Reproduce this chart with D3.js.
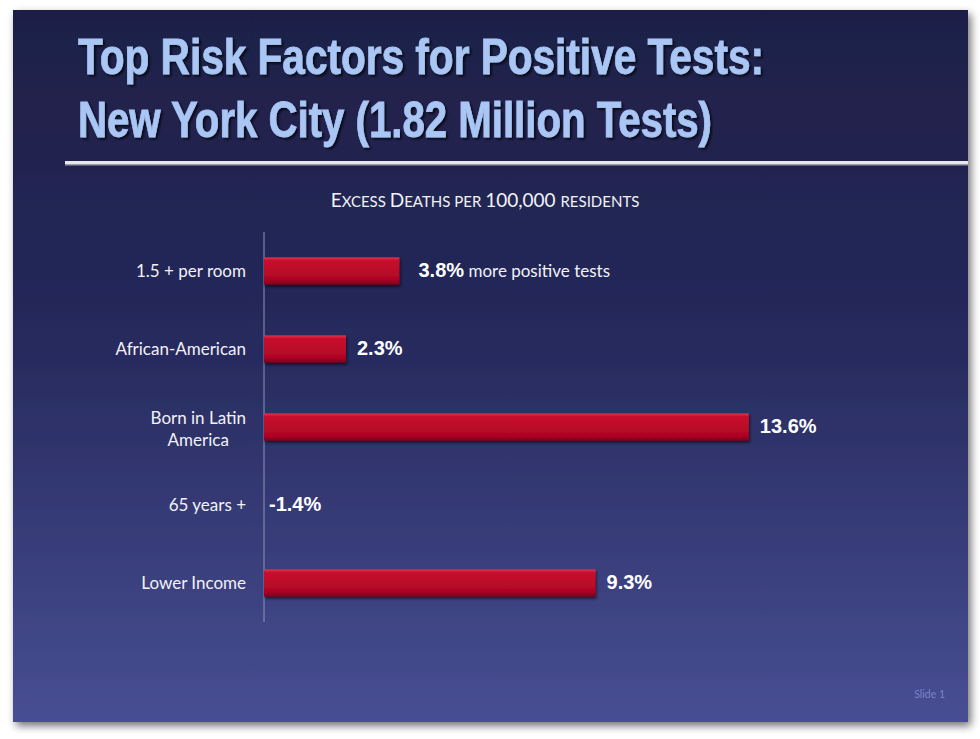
<!DOCTYPE html>
<html>
<head>
<meta charset="utf-8">
<script src="https://cdn.jsdelivr.net/npm/d3@7"></script>
<style>
  html, body { margin: 0; padding: 0; background: #fff; }
  svg { display: block; }
</style>
</head>
<body>
<svg id="chart" width="980" height="739"></svg>
<script>
(function () {
  "use strict";

  // Chart data
  var CATEGORIES = ["1.5 + per room", "African-American", "Born in Latin|America", "65 years +", "Lower Income"];
  var VALUES = [3.8, 2.3, 13.6, -1.4, 9.3];
  var VALUE_LABELS = ["3.8%", "2.3%", "13.6%", "-1.4%", "9.3%"];
  var TITLE_LINES = ["Top Risk Factors for Positive Tests:", "New York City (1.82 Million Tests)"];

  var svg = d3.select("#chart");
  var defs = svg.append("defs");
  var BODY_FONT = "Lato, 'Open Sans', sans-serif";

  // slide background
  var bg = defs.append("linearGradient").attr("id", "bg").attr("x1", 0).attr("y1", 0).attr("x2", 0).attr("y2", 1);
  bg.append("stop").attr("offset", "0%").attr("stop-color", "#1e1f47");
  bg.append("stop").attr("offset", "45%").attr("stop-color", "#25295b");
  bg.append("stop").attr("offset", "100%").attr("stop-color", "#484e93");

  var barG = defs.append("linearGradient").attr("id", "bar").attr("x1", 0).attr("y1", 0).attr("x2", 0).attr("y2", 1);
  barG.append("stop").attr("offset", "0%").attr("stop-color", "#e2334f");
  barG.append("stop").attr("offset", "12%").attr("stop-color", "#c8102e");
  barG.append("stop").attr("offset", "80%").attr("stop-color", "#b00525");
  barG.append("stop").attr("offset", "100%").attr("stop-color", "#7d0418");

  var sh = defs.append("filter").attr("id", "shadow").attr("x", "-5%").attr("y", "-5%").attr("width", "110%").attr("height", "110%");
  sh.append("feGaussianBlur").attr("in", "SourceAlpha").attr("stdDeviation", 4);
  sh.append("feOffset").attr("dx", 3).attr("dy", 4).attr("result", "b");
  sh.append("feComponentTransfer").append("feFuncA").attr("type", "linear").attr("slope", 0.55);
  var m = sh.append("feMerge"); m.append("feMergeNode"); m.append("feMergeNode").attr("in", "SourceGraphic");

  var bsh = defs.append("filter").attr("id", "bshadow").attr("x", "-5%").attr("y", "-30%").attr("width", "110%").attr("height", "170%");
  bsh.append("feGaussianBlur").attr("in", "SourceAlpha").attr("stdDeviation", 1.5);
  bsh.append("feOffset").attr("dx", 1).attr("dy", 2);
  bsh.append("feComponentTransfer").append("feFuncA").attr("type", "linear").attr("slope", 0.6);
  var m2 = bsh.append("feMerge"); m2.append("feMergeNode"); m2.append("feMergeNode").attr("in", "SourceGraphic");

  var tsh = defs.append("filter").attr("id", "tshadow").attr("x", "-5%").attr("y", "-20%").attr("width", "110%").attr("height", "140%");
  tsh.append("feGaussianBlur").attr("in", "SourceAlpha").attr("stdDeviation", 1.2);
  tsh.append("feOffset").attr("dx", 1.5).attr("dy", 1.5);
  tsh.append("feComponentTransfer").append("feFuncA").attr("type", "linear").attr("slope", 0.7);
  var m3 = tsh.append("feMerge"); m3.append("feMergeNode"); m3.append("feMergeNode").attr("in", "SourceGraphic");

  svg.append("rect").attr("x", 13).attr("y", 10).attr("width", 955).attr("height", 712)
    .attr("fill", "url(#bg)").attr("filter", "url(#shadow)");

  // title (condensed by squeezing the glyphs to the original widths)
  var TITLE_W = [686, 634];
  svg.append("g").attr("filter", "url(#tshadow)")
    .selectAll("text").data(TITLE_LINES).join("text")
    .attr("x", 78).attr("y", function (d, i) { return 74 + i * 63; })
    .attr("font-family", "'Liberation Sans', Arial, sans-serif")
    .attr("font-weight", "bold").attr("font-size", 50)
    .attr("textLength", function (d, i) { return TITLE_W[i]; })
    .attr("lengthAdjust", "spacingAndGlyphs")
    .attr("fill", "#a9c6f4").attr("stroke", "#a9c6f4").attr("stroke-width", 0.8)
    .text(function (d) { return d; });

  // rule under title
  svg.append("rect").attr("x", 65).attr("y", 161).attr("width", 903).attr("height", 4).attr("fill", "#e6e8ee");
  svg.append("rect").attr("x", 65).attr("y", 164).attr("width", 903).attr("height", 1.5).attr("fill", "#9a9caa");

  // subtitle in small caps
  var sub = svg.append("text").attr("x", 485).attr("y", 207).attr("text-anchor", "middle")
    .attr("font-family", BODY_FONT).attr("fill", "#f2f2f6");
  [["E", 19], ["XCESS ", 15], ["D", 19], ["EATHS PER ", 15], ["100,000 ", 19], [" RESIDENTS", 15]].forEach(function (p) {
    sub.append("tspan").attr("font-size", p[1]).text(p[0]);
  });

  // scales
  var x = d3.scaleLinear().domain([0, 14]).range([264, 264 + 14 * 35.65]).clamp(true);
  var y = d3.scaleBand().domain(CATEGORIES).range([232, 622]).paddingInner(0.65).paddingOuter(0.325);

  // axis line
  svg.append("line").attr("x1", x(0)).attr("x2", x(0)).attr("y1", 232).attr("y2", 622)
    .attr("stroke", "#8d93bb").attr("stroke-width", 1);

  // bars
  svg.append("g").selectAll("rect").data(VALUES).join("rect")
    .attr("x", x(0))
    .attr("y", function (d, i) { return y(CATEGORIES[i]); })
    .attr("width", function (d) { return x(Math.max(0, d)) - x(0); })
    .attr("height", y.bandwidth())
    .attr("fill", "url(#bar)")
    .attr("filter", "url(#bshadow)");

  // category labels (two-line labels are centred as a block)
  var cl = svg.append("g").selectAll("text").data(CATEGORIES).join("text")
    .attr("y", function (d) { return y(d) + y.bandwidth() / 2; })
    .attr("font-family", BODY_FONT).attr("font-size", 17)
    .attr("fill", "#f2f2f6");
  cl.each(function (d) {
    var parts = d.split("|"), t = d3.select(this);
    var spans = parts.map(function (p, i) {
      return t.append("tspan")
        .attr("dy", i === 0 ? (parts.length > 1 ? "-0.2em" : "0.35em") : "1.3em")
        .text(p);
    });
    if (parts.length > 1) {
      var w = d3.max(spans, function (s) { return s.node().getComputedTextLength(); });
      t.attr("text-anchor", "middle");
      spans.forEach(function (s) { s.attr("x", 246 - w / 2); });
    } else {
      t.attr("text-anchor", "end");
      spans[0].attr("x", 246);
    }
  });

  // value labels
  var vl = svg.append("g").selectAll("text").data(VALUES).join("text")
    .attr("x", function (d, i) { return x(Math.max(0, d)) + (d > 0 ? (i === 0 ? 19 : 11) : 5); })
    .attr("y", function (d, i) { return y(CATEGORIES[i]) + y.bandwidth() / 2; })
    .attr("dy", "0.35em")
    .attr("fill", "#ffffff");
  vl.append("tspan")
    .attr("font-family", "'Liberation Sans', Arial, sans-serif")
    .attr("font-weight", "bold").attr("font-size", 20)
    .text(function (d, i) { return VALUE_LABELS[i]; });
  vl.filter(function (d, i) { return i === 0; }).append("tspan")
    .attr("font-family", BODY_FONT).attr("font-size", 17)
    .attr("fill", "#f2f2f6")
    .text(" more positive tests");

  // slide number
  svg.append("text").attr("x", 945).attr("y", 698).attr("text-anchor", "end")
    .attr("font-family", BODY_FONT).attr("font-size", 10.5).attr("fill", "#7c83c8")
    .text("Slide 1");
})();
</script>
</body>
</html>
